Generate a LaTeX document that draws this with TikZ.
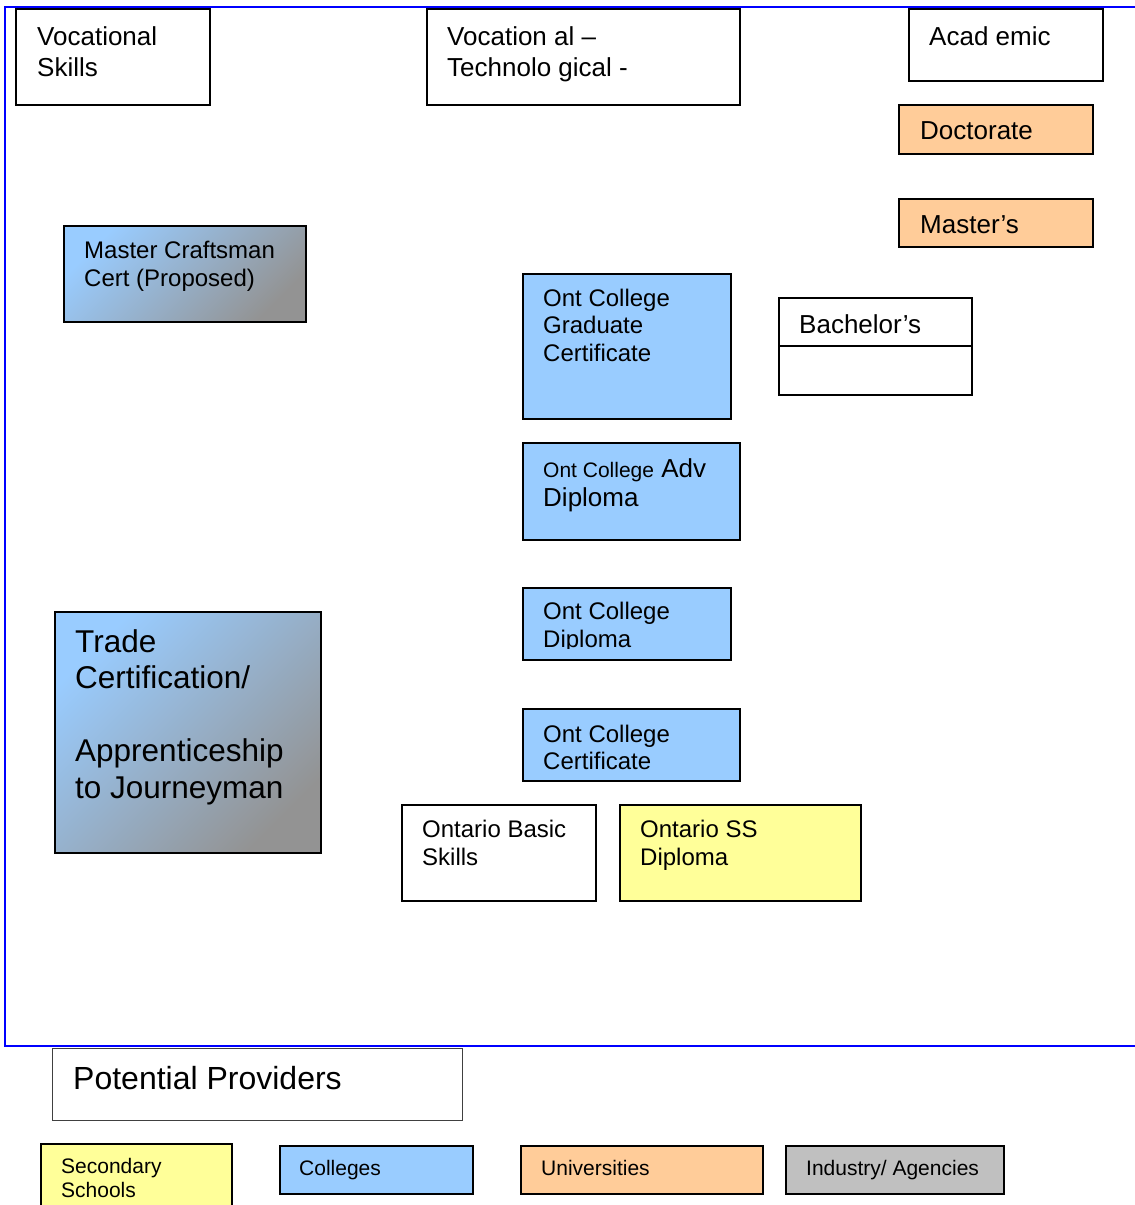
\documentclass[tikz,border=0pt]{standalone}
\usepackage{fontspec}
\setmainfont{Liberation Sans}
\usepackage{tikz}
\usetikzlibrary{positioning}
\definecolor{CollegeBlue}{HTML}{99CCFF}
\definecolor{UniOrange}{HTML}{FFCC99}
\definecolor{SchoolYellow}{HTML}{FFFF99}
\definecolor{AgencyGray}{HTML}{C0C0C0}
\definecolor{CraftGray}{HTML}{939393}
\definecolor{FrameBlue}{HTML}{0000FF}

\begin{document}
\begin{tikzpicture}[x=1pt,y=-1pt,
  box/.style={draw=black,line width=1.8pt,anchor=north west,inner sep=0pt},
  lbl/.style={anchor=north west,inner sep=0pt,align=left},
  craft/.style={box,top color=CollegeBlue,bottom color=CraftGray,shading angle=45},
  big/.style={font=\fontsize{26}{31}\selectfont},
  mid/.style={font=\fontsize{24}{28}\selectfont},
  small/.style={font=\fontsize{21}{24}\selectfont}]
  \useasboundingbox (0,0) rectangle (1135,1205);
  \draw[FrameBlue,line width=1.6pt] (5,7) rectangle (1160,1046);

  % column heads
  \node[box,minimum width=194pt,minimum height=96pt] (voc) at (15,8) {};
  \node[lbl,big] (voc-t) at ([shift={(22,18.3)}]voc.north west) {Vocational\\Skills};
  \node[box,minimum width=313pt,minimum height=96pt] (vtech) at (426,8) {};
  \node[lbl,big] (vtech-t) at ([shift={(21,18.3)}]vtech.north west) {Vocation al --\\Technolo gical -};
  \node[box,minimum width=194pt,minimum height=72pt] (acad) at (908,8) {};
  \node[lbl,big] (acad-t) at ([shift={(21,18.3)}]acad.north west) {Acad emic};

  % universities
  \node[box,fill=UniOrange,minimum width=194pt,minimum height=49pt] (doct) at (898,104) {};
  \node[lbl,big] (doct-t) at ([shift={(22,17)}]doct.north west) {Doctorate};
  \node[box,fill=UniOrange,minimum width=194pt,minimum height=48pt] (mast) at (898,198) {};
  \node[lbl,big] (mast-t) at ([shift={(22,17.5)}]mast.north west) {Master’s};
  \node[box,minimum width=193pt,minimum height=97pt] (bach) at (778,297) {};
  \draw[line width=1.8pt] ([yshift=-49pt]bach.north west) -- ([yshift=-49pt]bach.north east);
  \node[lbl,big] (bach-t) at ([shift={(21,17.5)}]bach.north west) {Bachelor’s};

  % colleges
  \node[box,fill=CollegeBlue,minimum width=208pt,minimum height=145pt] (grad) at (522,273) {};
  \node[lbl,mid,font=\fontsize{24}{27.7}\selectfont] (grad-t) at ([shift={(21,15.7)}]grad.north west) {Ont College\\Graduate\\Certificate};
  \node[box,fill=CollegeBlue,minimum width=217pt,minimum height=97pt] (adv) at (522,442) {};
  \node[lbl,font=\fontsize{26}{29}\selectfont] (adv-t) at ([shift={(21,16.7)}]adv.north west) {{\fontsize{21}{29}\selectfont Ont College} Adv\\Diploma};
  \node[box,fill=CollegeBlue,minimum width=208pt,minimum height=72pt] (dipl) at (522,587) {};
  \begin{scope}
    \clip (522,587) rectangle (730,648.5);
    \node[lbl,mid] (dipl-t) at ([shift={(21,14.7)}]dipl.north west) {Ont College\\Diploma};
  \end{scope}
  \node[box,fill=CollegeBlue,minimum width=217pt,minimum height=72pt] (cert) at (522,708) {};
  \node[lbl,font=\fontsize{24}{27}\selectfont] (cert-t) at ([shift={(21,16.4)}]cert.north west) {Ont College\\Certificate};

  % trades
  \node[craft,minimum width=242pt,minimum height=96pt] (mcraft) at (63,225) {};
  \node[lbl,mid] (mcraft-t) at ([shift={(21,15.7)}]mcraft.north west) {Master Craftsman\\Cert (Proposed)};
  \node[craft,minimum width=266pt,minimum height=241pt] (trade) at (54,611) {};
  \node[lbl,font=\fontsize{31.5}{36.3}\selectfont] (trade-t) at ([shift={(21,18.3)}]trade.north west)
    {Trade\\Certification/\\[37pt]Apprenticeship\\to Journeyman};

  % schools
  \node[box,minimum width=194pt,minimum height=96pt] (basic) at (401,804) {};
  \node[lbl,mid] (basic-t) at ([shift={(21,16)}]basic.north west) {Ontario Basic\\Skills};
  \node[box,fill=SchoolYellow,minimum width=241pt,minimum height=96pt] (ssd) at (619,804) {};
  \node[lbl,mid] (ssd-t) at ([shift={(21,16)}]ssd.north west) {Ontario SS\\Diploma};

  % legend
  \node[box,draw=black!75,line width=1pt,minimum width=410pt,minimum height=72pt] (prov) at (52,1048) {};
  \node[lbl,font=\fontsize{32}{37}\selectfont] (prov-t) at ([shift={(21,18.5)}]prov.north west) {Potential Providers};
  \node[box,fill=SchoolYellow,minimum width=191pt,minimum height=80pt] (lsec) at (40,1143) {};
  \node[lbl,small] (lsec-t) at ([shift={(21,15.5)}]lsec.north west) {Secondary\\Schools};
  \node[box,fill=CollegeBlue,minimum width=193pt,minimum height=48pt] (lcol) at (279,1145) {};
  \node[lbl,small] (lcol-t) at ([shift={(20,15.5)}]lcol.north west) {Colleges};
  \node[box,fill=UniOrange,minimum width=242pt,minimum height=48pt] (luni) at (520,1145) {};
  \node[lbl,small] (luni-t) at ([shift={(21,15.5)}]luni.north west) {Universities};
  \node[box,fill=AgencyGray,minimum width=218pt,minimum height=48pt] (lind) at (785,1145) {};
  \node[lbl,small] (lind-t) at ([shift={(21,15.5)}]lind.north west) {Industry/ Agencies};
\end{tikzpicture}
\end{document}
